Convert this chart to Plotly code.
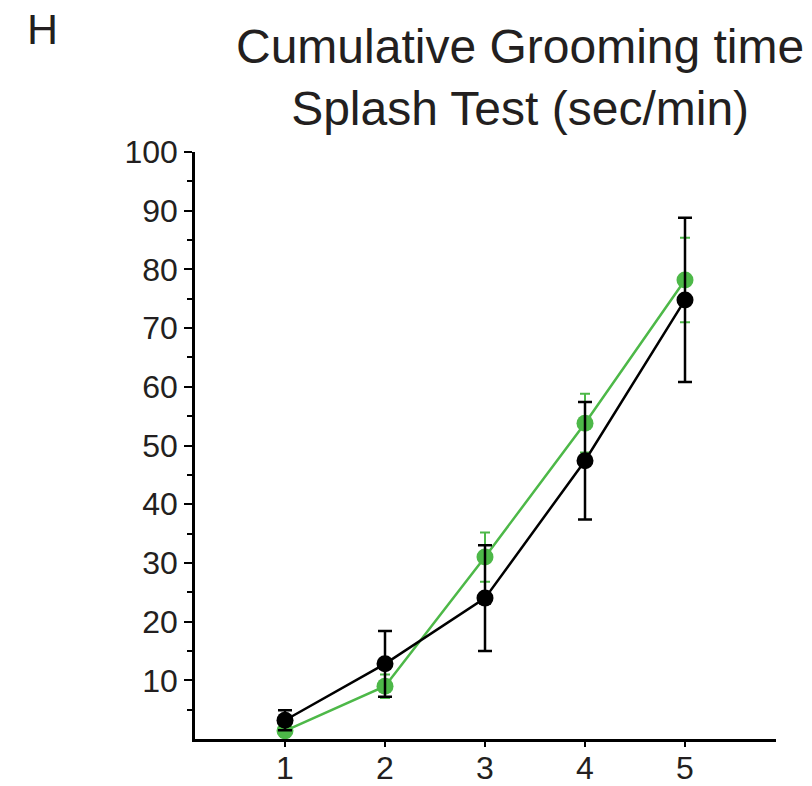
import plotly.graph_objects as go

# Time bins (minutes) and cumulative grooming time (sec/min)
minutes = [1, 2, 3, 4, 5]
green_mean = [1.4, 9.0, 31.0, 53.8, 78.2]
green_err = [1.0, 2.0, 4.2, 5.0, 7.2]
black_mean = [3.2, 12.8, 24.0, 47.4, 74.8]
black_err = [1.7, 5.6, 9.0, 10.0, 14.0]

y_ticks = [10, 20, 30, 40, 50, 60, 70, 80, 90, 100]
y_minor = [5, 15, 25, 35, 45, 55, 65, 75, 85, 95]

GREEN = "#4db848"
FONT = "Liberation Sans, Arial, sans-serif"
INK = "#231f20"

fig = go.Figure()
fig.add_trace(go.Scatter(
    x=minutes, y=green_mean, mode="lines+markers",
    line=dict(color=GREEN, width=2.5),
    marker=dict(color=GREEN, size=17),
    error_y=dict(type="data", array=green_err, color=GREEN, thickness=2, width=5),
    showlegend=False,
))
fig.add_trace(go.Scatter(
    x=minutes, y=black_mean, mode="lines+markers",
    line=dict(color="black", width=2.5),
    marker=dict(color="black", size=17),
    error_y=dict(type="data", array=black_err, color="black", thickness=2.5, width=7),
    showlegend=False,
))

fig.update_layout(
    width=812, height=786,
    margin=dict(l=195, r=36, t=152, b=47),
    paper_bgcolor="white", plot_bgcolor="white",
    font=dict(family=FONT, color=INK),
    annotations=[
        dict(text="Cumulative Grooming time<br>Splash Test (sec/min)",
             xref="paper", yref="paper", x=(520 - 195) / 581, y=1.0,
             yshift=134, xanchor="center", yanchor="top", showarrow=False,
             font=dict(size=48, family=FONT, color=INK)),
        dict(text="H", xref="paper", yref="paper", x=(25 - 195) / 581, y=1.0,
             yshift=149, xanchor="left", yanchor="top", showarrow=False,
             font=dict(size=43, family=FONT, color=INK)),
    ],
)

fig.update_xaxes(
    range=[0.1, 5.91], tickvals=minutes, ticktext=[str(m) for m in minutes],
    showgrid=False, zeroline=False, showline=True, linecolor="black", linewidth=2.5,
    ticks="outside", ticklen=5, tickwidth=2, tickcolor="black", automargin=False,
    ticklabelstandoff=-6,
    tickfont=dict(size=32, family=FONT, color=INK),
)
fig.update_yaxes(
    range=[0, 100], tickvals=y_ticks, ticktext=[str(v) for v in y_ticks],
    showgrid=False, zeroline=False, showline=True, linecolor="black", linewidth=2.5,
    ticks="outside", ticklen=8, tickwidth=2, tickcolor="black", automargin=False,
    minor=dict(tickvals=y_minor, ticks="outside", ticklen=5, tickwidth=2, tickcolor="black", showgrid=False),
    tickfont=dict(size=32, family=FONT, color=INK),
)

fig.write_html("out.html")
